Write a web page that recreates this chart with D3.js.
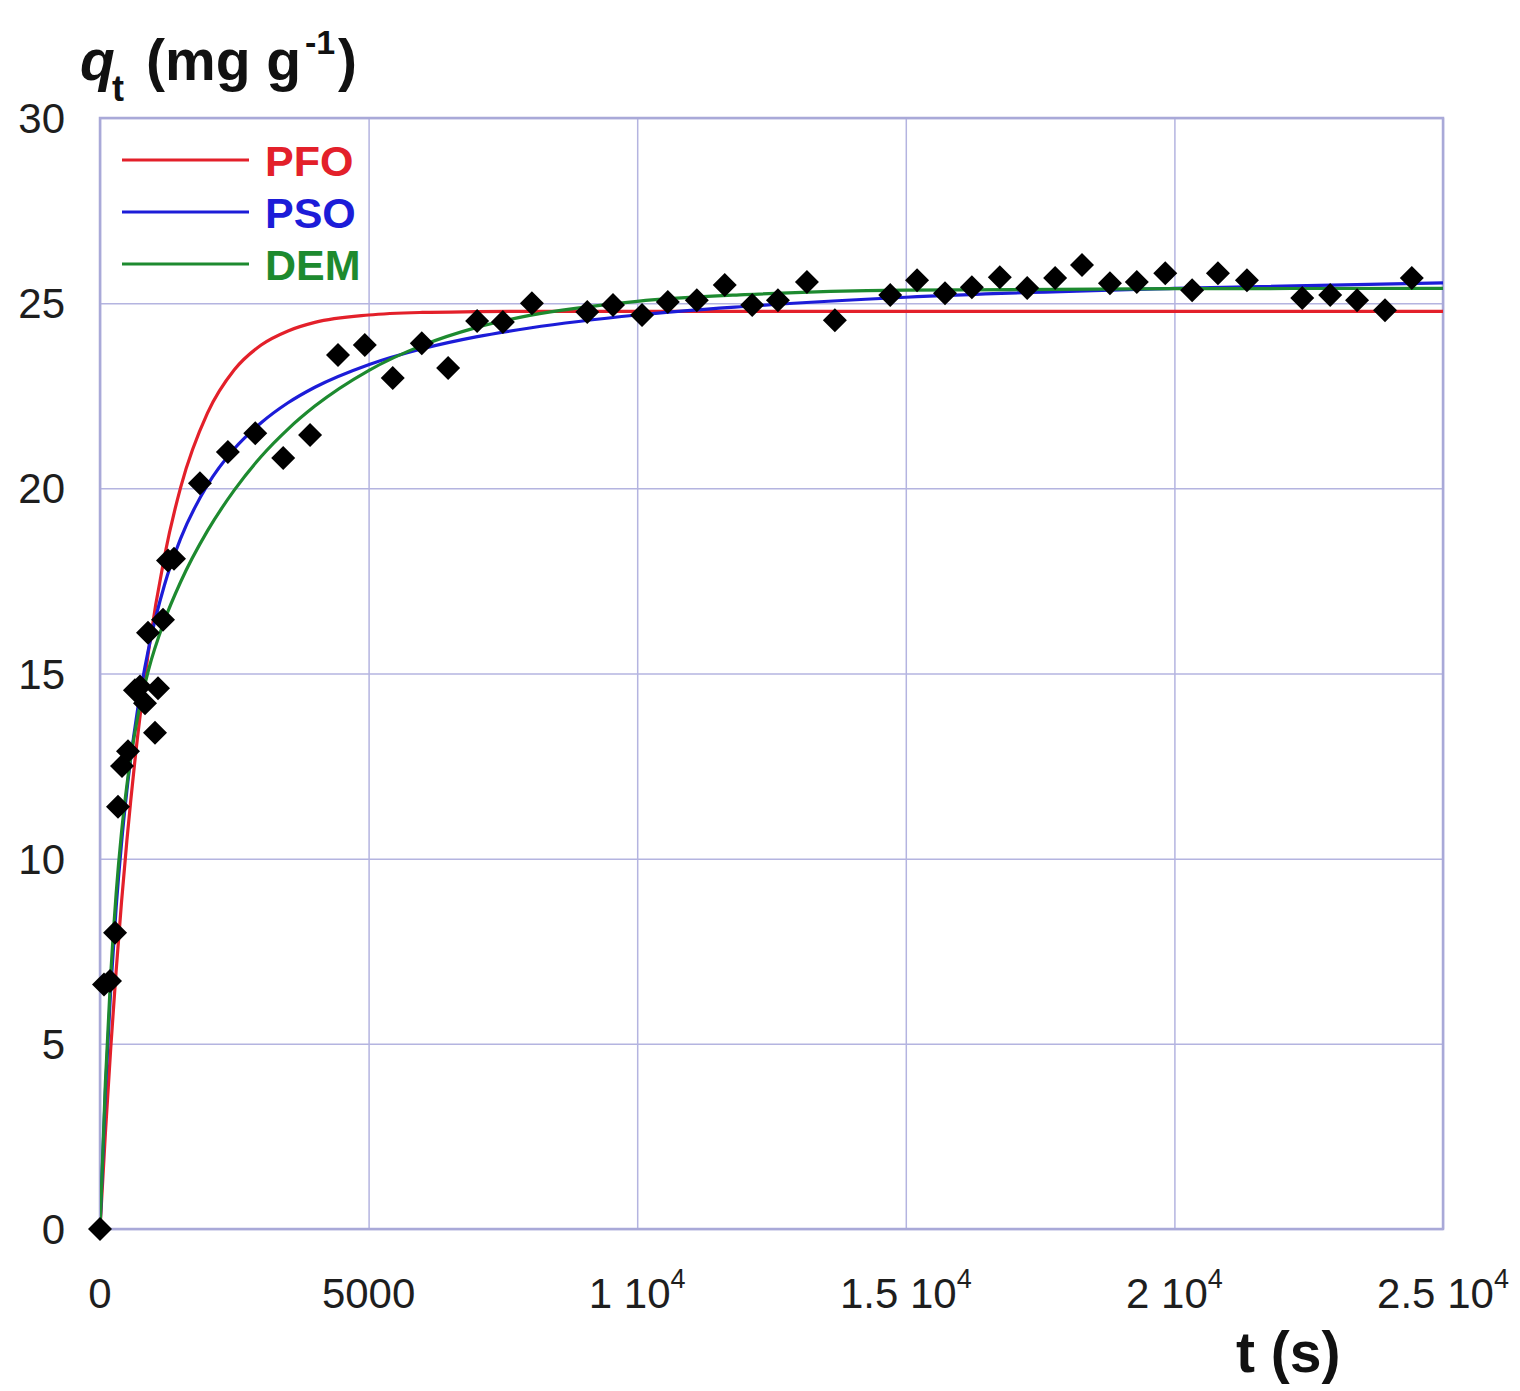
<!DOCTYPE html>
<html>
<head>
<meta charset="utf-8">
<script src="https://cdn.jsdelivr.net/npm/d3@7"></script>
<style>
  html, body { margin: 0; padding: 0; background: #fff; }
  svg { display: block; }
  text { font-family: "Liberation Sans", Arial, sans-serif; }
</style>
</head>
<body>
<svg id="chart" width="1520" height="1391"></svg>
<script>
// Measured uptake q_t (mg/g) versus contact time t (s)
const tObs = [0, 75, 186, 280, 335, 410, 521, 650, 745, 838, 894, 1024, 1080, 1173, 1266, 1378,
  1860, 2380, 2890, 3410, 3910, 4430, 4930, 5450, 5990, 6480, 7020, 7500, 8040,
  9070, 9550, 10090, 10570, 11110, 11630, 12140, 12620, 13160, 13680,
  14710, 15210, 15730, 16230, 16750, 17260, 17780, 18280, 18800, 19300, 19830, 20330, 20810, 21350,
  22380, 22900, 23400, 23920, 24420];
const qObs = [0, 6.6, 6.7, 8.0, 11.4, 12.5, 12.9, 14.55, 14.65, 14.2, 16.1, 13.4, 14.6, 16.45, 18.05, 18.1,
  20.14, 20.98, 21.49, 20.82, 21.44, 23.6, 23.87, 22.98, 23.92, 23.25, 24.52, 24.49, 25.0,
  24.76, 24.95, 24.68, 25.03, 25.08, 25.49, 24.95, 25.08, 25.57, 24.54,
  25.22, 25.62, 25.27, 25.43, 25.7, 25.41, 25.68, 26.03, 25.54, 25.57, 25.81, 25.35, 25.81, 25.62,
  25.14, 25.22, 25.08, 24.81, 25.68];

// Fitted kinetic curves sampled along t
const tFit = [0, 100, 200, 300, 400, 500, 700, 900, 1200, 1500, 2000, 2500, 3000, 3500, 4000,
  5000, 6000, 7000, 8000, 10000, 12000, 15000, 20000, 25000];
const qPFO = [0, 2.58, 4.89, 6.96, 8.82, 10.48, 13.30, 15.57, 18.16, 20.02, 22.03, 23.20, 23.87, 24.25, 24.48,
  24.68, 24.75, 24.77, 24.78, 24.78, 24.78, 24.78, 24.78, 24.78];
const qPSO = [0, 3.71, 6.49, 8.67, 10.41, 11.83, 14.03, 15.64, 17.39, 18.64, 20.09, 21.07, 21.77, 22.31, 22.73,
  23.34, 23.77, 24.09, 24.33, 24.68, 24.91, 25.16, 25.40, 25.55];
const qDEM = [0, 3.95, 6.87, 9.05, 10.70, 11.98, 13.82, 15.08, 16.43, 17.47, 18.85, 19.95, 20.86, 21.60, 22.22,
  23.18, 23.86, 24.34, 24.67, 25.05, 25.23, 25.35, 25.39, 25.40];

const seriesNames = ["PFO", "PSO", "DEM"];
const seriesColors = ["#e3202a", "#1c1cd8", "#1d8a2f"];

// Axis ticks
const xTicks = [0, 5000, 10000, 15000, 20000, 25000];
const xTickMantissa = ["0", "5000", "1 10", "1.5 10", "2 10", "2.5 10"];
const xTickExponent = ["", "", "4", "4", "4", "4"];
const yTicks = [0, 5, 10, 15, 20, 25, 30];

const svg = d3.select("#chart");
const plotL = 100, plotR = 1443, plotT = 118, plotB = 1229;
const W = plotR - plotL, H = plotB - plotT;

const x = d3.scaleLinear().domain([0, 25000]).range([plotL, plotR]);
const y = d3.scaleLinear().domain([0, 30]).range([plotB, plotT]);

const gridColor = "#b4b4e0";

// Grid lines
svg.append("g")
  .attr("transform", `translate(0,${plotB})`)
  .call(d3.axisBottom(x).tickValues(xTicks).tickSize(-H).tickFormat(""))
  .call(g => g.select(".domain").remove())
  .call(g => g.selectAll("line").attr("stroke", gridColor).attr("stroke-width", 1.5));

svg.append("g")
  .attr("transform", `translate(${plotL},0)`)
  .call(d3.axisLeft(y).tickValues(yTicks).tickSize(-W).tickFormat(""))
  .call(g => g.select(".domain").remove())
  .call(g => g.selectAll("line").attr("stroke", gridColor).attr("stroke-width", 1.5));

// Plot frame
svg.append("rect")
  .attr("x", plotL).attr("y", plotT).attr("width", W).attr("height", H)
  .attr("fill", "none").attr("stroke", "#a9a9d8").attr("stroke-width", 2.5);

// Y tick labels
svg.append("g").selectAll("text").data(yTicks).join("text")
  .attr("x", 65).attr("y", d => y(d))
  .attr("dy", "0.36em")
  .attr("text-anchor", "end")
  .attr("font-size", 42)
  .attr("fill", "#1e1e1e")
  .text(d => d);

// X tick labels with power-of-ten notation
const xl = svg.append("g").selectAll("text").data(xTicks).join("text")
  .attr("x", d => x(d)).attr("y", 1308)
  .attr("text-anchor", "middle")
  .attr("font-size", 42)
  .attr("fill", "#1e1e1e");
xl.append("tspan").text((d, i) => xTickMantissa[i]);
xl.append("tspan")
  .attr("dy", -20).attr("font-size", 27)
  .text((d, i) => xTickExponent[i]);

// Clip for curves
svg.append("defs").append("clipPath").attr("id", "plotClip")
  .append("rect").attr("x", plotL).attr("y", plotT - 2).attr("width", W).attr("height", H + 4);

const line = d3.line()
  .x((d, i) => x(tFit[i]))
  .y(d => y(d))
  .curve(d3.curveMonotoneX);

const curves = [qPFO, qPSO, qDEM];
svg.append("g").attr("clip-path", "url(#plotClip)")
  .selectAll("path").data(curves).join("path")
  .attr("d", d => line(d))
  .attr("fill", "none")
  .attr("stroke", (d, i) => seriesColors[i])
  .attr("stroke-width", 3.2);

// Data markers (black diamonds)
const dm = 12;
svg.append("g").selectAll("path").data(tObs).join("path")
  .attr("transform", (d, i) => `translate(${x(d)},${y(qObs[i])})`)
  .attr("d", `M0,${-dm}L${dm},0L0,${dm}L${-dm},0Z`)
  .attr("fill", "#000");

// Legend
const legendY = [160, 212, 264];
const lg = svg.append("g");
seriesNames.forEach((name, i) => {
  lg.append("line")
    .attr("x1", 122).attr("x2", 249)
    .attr("y1", legendY[i]).attr("y2", legendY[i])
    .attr("stroke", seriesColors[i]).attr("stroke-width", 3);
  lg.append("text")
    .attr("x", 265).attr("y", legendY[i] + 16)
    .attr("font-size", 43).attr("font-weight", "bold")
    .attr("fill", seriesColors[i])
    .text(name);
});

// Y axis title: q_t (mg g^-1)
const yt = svg.append("text").attr("y", 80).attr("font-size", 57).attr("font-weight", "bold").attr("fill", "#111");
yt.append("tspan").attr("x", 80).attr("font-style", "italic").text("q");
yt.append("tspan").attr("x", 112).attr("y", 101).attr("font-size", 36).text("t");
yt.append("tspan").attr("x", 146).attr("y", 80).text("(mg g");
yt.append("tspan").attr("x", 305).attr("y", 54).attr("font-size", 34).text("-1");
yt.append("tspan").attr("x", 338).attr("y", 80).text(")");

// X axis title
svg.append("text")
  .attr("x", 1236).attr("y", 1372)
  .attr("font-size", 57).attr("font-weight", "bold").attr("fill", "#111")
  .text("t (s)");
</script>
</body>
</html>
